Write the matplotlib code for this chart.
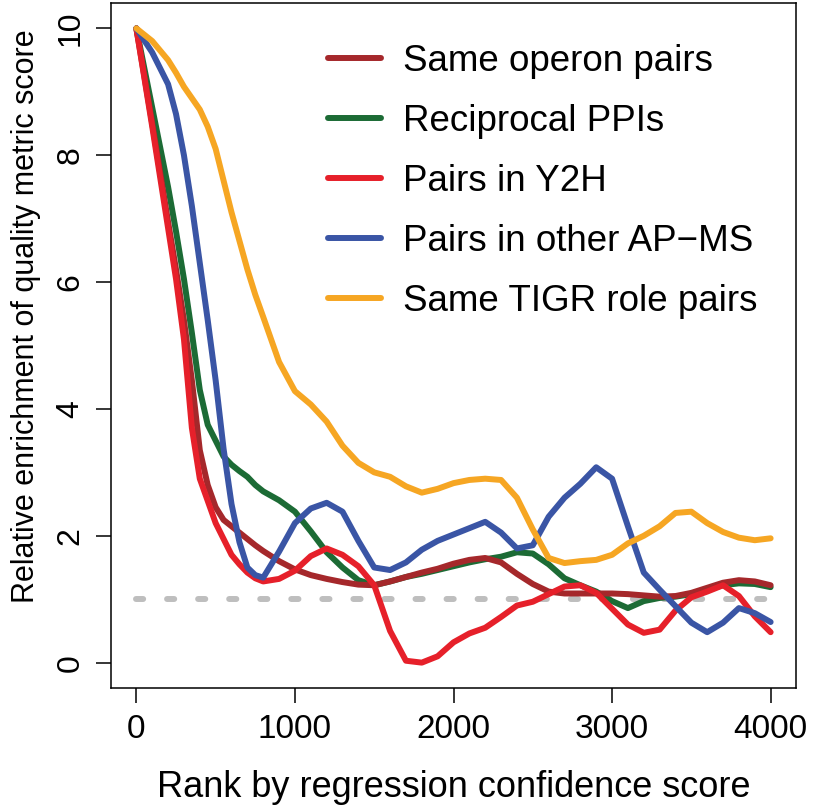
import matplotlib
matplotlib.use("Agg")
import matplotlib.pyplot as plt
from matplotlib import font_manager

# rank positions shared by all curves
RANK = [0, 100, 200, 250, 300, 350, 400, 450, 500, 550, 600, 650, 700, 750, 800,
        900, 1000, 1100, 1200, 1300, 1400, 1500, 1600, 1700, 1800, 1900, 2000,
        2100, 2200, 2300, 2400, 2500, 2600, 2700, 2800, 2900, 3000, 3100, 3200,
        3300, 3400, 3500, 3600, 3700, 3800, 3900, 4000]

same_operon = [10, 8.5, 6.95, 6.2, 5.4, 4.45, 3.35, 2.8, 2.45, 2.25, 2.15, 2.05, 1.95, 1.85, 1.76,
               1.6, 1.47, 1.38, 1.32, 1.27, 1.23, 1.22, 1.28, 1.35, 1.42, 1.48, 1.56,
               1.62, 1.65, 1.58, 1.40, 1.24, 1.12, 1.09, 1.09, 1.09, 1.09, 1.08, 1.06,
               1.04, 1.05, 1.10, 1.18, 1.26, 1.30, 1.28, 1.22]

reciprocal_ppi = [10, 8.75, 7.5, 6.8, 6.05, 5.2, 4.3, 3.75, 3.5, 3.25, 3.12, 3.02, 2.93, 2.8, 2.7,
                  2.56, 2.38, 2.07, 1.74, 1.5, 1.3, 1.22, 1.28, 1.35, 1.40, 1.46, 1.52,
                  1.58, 1.63, 1.67, 1.74, 1.72, 1.55, 1.33, 1.22, 1.12, 0.97, 0.86, 0.97,
                  1.02, 1.04, 1.08, 1.15, 1.22, 1.25, 1.24, 1.19]

pairs_y2h = [10, 8.45, 6.85, 6.05, 5.1, 3.7, 2.9, 2.55, 2.2, 1.95, 1.7, 1.55, 1.42, 1.33, 1.28,
             1.32, 1.45, 1.68, 1.80, 1.70, 1.52, 1.22, 0.5, 0.03, 0.0, 0.1, 0.32,
             0.46, 0.55, 0.72, 0.9, 0.96, 1.08, 1.2, 1.22, 1.1, 0.85, 0.6, 0.47,
             0.52, 0.82, 1.03, 1.12, 1.22, 1.05, 0.73, 0.48]

pairs_apms = [10, 9.62, 9.12, 8.65, 8.0, 7.2, 6.3, 5.4, 4.45, 3.37, 2.5, 1.9, 1.5, 1.38, 1.34,
              1.75, 2.2, 2.43, 2.52, 2.38, 1.92, 1.5, 1.46, 1.58, 1.78, 1.92, 2.02,
              2.12, 2.22, 2.05, 1.8, 1.85, 2.3, 2.6, 2.82, 3.08, 2.9, 2.15, 1.42,
              1.15, 0.89, 0.63, 0.48, 0.63, 0.86, 0.78, 0.64]

same_tigr = [10, 9.8, 9.5, 9.3, 9.08, 8.9, 8.72, 8.45, 8.1, 7.6, 7.1, 6.65, 6.2, 5.8, 5.45,
             4.74, 4.28, 4.07, 3.8, 3.42, 3.15, 3.0, 2.93, 2.78, 2.68, 2.74, 2.83,
             2.88, 2.9, 2.88, 2.6, 2.1, 1.65, 1.57, 1.6, 1.62, 1.7, 1.88, 2.0,
             2.15, 2.36, 2.38, 2.2, 2.06, 1.97, 1.93, 1.96]

BASELINE = 1.0
X_TICKS = [0, 1000, 2000, 3000, 4000]
Y_TICKS = [0, 2, 4, 6, 8, 10]

SERIES = [
    ("Same operon pairs", same_operon, "#A5282B"),
    ("Reciprocal PPIs", reciprocal_ppi, "#1C6B35"),
    ("Pairs in Y2H", pairs_y2h, "#E6202A"),
    ("Pairs in other AP\u2212MS", pairs_apms, "#3A55A5"),
    ("Same TIGR role pairs", same_tigr, "#F6A623"),
]
# drawing order (brown sits on top of green)
DRAW_ORDER = [1, 0, 2, 3, 4]

names = {f.name for f in font_manager.fontManager.ttflist}
plt.rcParams["font.family"] = "Liberation Sans"
if "Liberation Sans Narrow" in names:
    XFONT, XTICK_SIZE, XLAB_SIZE = "Liberation Sans Narrow", 29, 31
else:
    XFONT, XTICK_SIZE, XLAB_SIZE = "Liberation Sans", 24, 26

fig = plt.figure(figsize=(8.14, 8.10), dpi=100)
ax = fig.add_axes([111 / 814, 1 - 688 / 810, (796 - 111) / 814, (688 - 3) / 810])

ax.plot([RANK[0], RANK[-1]], [BASELINE, BASELINE], color="#BEBEBE", lw=4.3,
        dashes=(1.2, 4.0), dash_capstyle="round", zorder=1)

handles = [None] * len(SERIES)
for i in DRAW_ORDER:
    label, vals, col = SERIES[i]
    (h,) = ax.plot(RANK, vals, color=col, lw=4.3, solid_capstyle="round",
                   solid_joinstyle="round", label=label, zorder=2)
    handles[i] = h

ax.set_xlim(-160, 4160)
ax.set_ylim(-0.4, 10.4)
ax.set_xticks(X_TICKS)
ax.set_yticks(Y_TICKS)
ax.set_xticklabels([str(t) for t in X_TICKS], fontfamily=XFONT, fontsize=XTICK_SIZE)
ax.set_yticklabels([str(t) for t in Y_TICKS], fontsize=23, rotation=90, va="center")
ax.tick_params(axis="both", length=10.5, width=1.1, direction="out")
ax.tick_params(axis="x", pad=8)
ax.tick_params(axis="y", pad=8)
for sp in ax.spines.values():
    sp.set_linewidth(1.1)

ax.set_xlabel("Rank by regression confidence score", fontfamily=XFONT,
              fontsize=XLAB_SIZE, labelpad=18)
ax.set_ylabel("Relative enrichment of quality metric score", fontsize=22)
ax.yaxis.set_label_coords(-0.102, 0.543)

leg = ax.legend(handles=handles, loc="upper left", bbox_to_anchor=(328 / 814, 1 - 44 / 810),
                bbox_transform=fig.transFigure, frameon=False, fontsize=26.5,
                handlelength=1.45, handletextpad=0.6, labelspacing=0.68, borderpad=0,
                borderaxespad=0)
for ln in leg.get_lines():
    ln.set_linewidth(4.3)
    ln.set_solid_capstyle("round")

fig.savefig("out.png", dpi=100)
